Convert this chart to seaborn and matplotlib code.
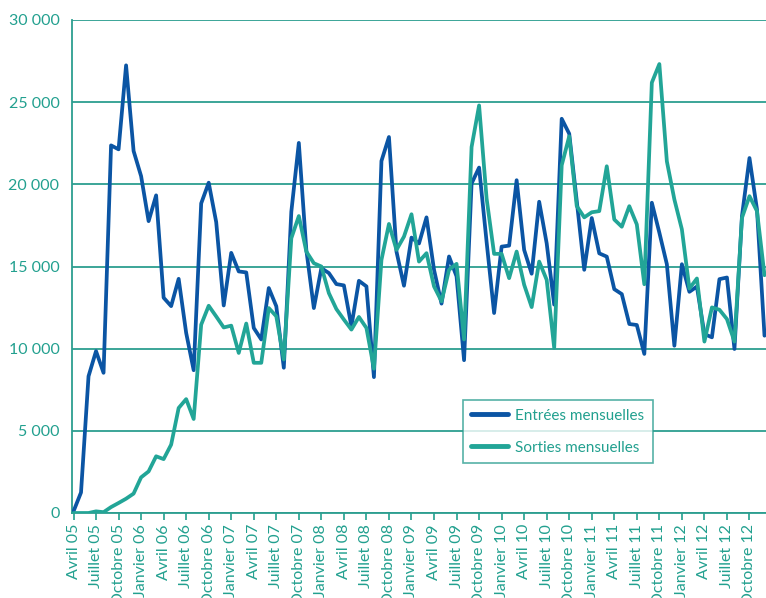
import numpy as np
import pandas as pd
import matplotlib
matplotlib.use("Agg")
import matplotlib.pyplot as plt
import seaborn as sns
from matplotlib.ticker import FuncFormatter, FixedLocator

# ---- data (monthly, Avril 2005 -> Décembre 2012) ----
entrees = [100, 1250, 8320, 9850, 8530, 22370, 22130, 27240, 22030, 20500,
           17760, 19330, 13100, 12590, 14250, 10960, 8690, 18840, 20100, 17700,
           12630, 15830, 14700, 14640, 11260, 10560, 13690, 12580, 8840, 18330,
           22520, 16000, 12470, 14900, 14600, 13930, 13850, 11360, 14130, 13790,
           8270, 21420, 22880, 15910, 13830, 16760, 16400, 17990, 14800, 12740,
           15610, 14400, 9300, 20050, 21020, 16500, 12170, 16210, 16270, 20250,
           16010, 14560, 18940, 16410, 12680, 23990, 23080, 19000, 14800, 17950,
           15800, 15600, 13620, 13320, 11500, 11440, 9680, 18880, 17060, 15140,
           10180, 15140, 13460, 13780, 10890, 10690, 14230, 14330, 9980, 18070,
           21600, 18470, 10790]
sorties = [0, 0, 0, 100, 50, 360, 610, 870, 1180, 2170,
           2530, 3450, 3280, 4160, 6390, 6930, 5720, 11460, 12610, 11960,
           11290, 11400, 9740, 11530, 9140, 9140, 12470, 11970, 9340, 16720,
           18070, 15910, 15200, 15000, 13380, 12410, 11770, 11160, 11930, 11260,
           8780, 15400, 17590, 16010, 16820, 18180, 15300, 15810, 13790, 12880,
           14800, 15160, 10560, 22270, 24800, 19140, 15770, 15770, 14290, 15910,
           13890, 12530, 15300, 14190, 10050, 21160, 22920, 18680, 17990, 18300,
           18370, 21100, 17860, 17420, 18670, 17560, 13920, 26190, 27320, 21400,
           19080, 17260, 13660, 14270, 10430, 12510, 12370, 11800, 10430, 17960,
           19280, 18370, 14470]
tick_labels = ["Avril 05", "Juillet 05", "Octobre 05",
               "Janvier 06", "Avril 06", "Juillet 06", "Octobre 06",
               "Janvier 07", "Avril 07", "Juillet 07", "Octobre 07",
               "Janvier 08", "Avril 08", "Juillet 08", "Octobre 08",
               "Janvier 09", "Avril 09", "Juillet 09", "Octobre 09",
               "Janvier 10", "Avril 10", "Juillet 10", "Octobre 10",
               "Janvier 11", "Avril 11", "Juillet 11", "Octobre 11",
               "Janvier 12", "Avril 12", "Juillet 12", "Octobre 12"]
series_names = ["Entrées mensuelles", "Sorties mensuelles"]

BLUE = "#0b55a4"
GREEN = "#22a597"
GRID = "#2c9e90"
TEXT = "#22a08f"

month_idx = np.arange(len(entrees))
df = pd.DataFrame({
    "mois": np.concatenate([month_idx, month_idx]),
    "valeur": entrees + sorties,
    "serie": [series_names[0]] * len(entrees) + [series_names[1]] * len(sorties),
})

sns.set_theme(style="white")
plt.rcParams["font.family"] = ["Lato", "DejaVu Sans"]

fig = plt.figure(figsize=(7.66, 5.98), dpi=100)
ax = fig.add_axes([72 / 766, 1 - 513 / 598, 1 - 72 / 766, (513 - 20) / 598])

sns.lineplot(data=df, x="mois", y="valeur", hue="serie", hue_order=series_names,
             palette={series_names[0]: BLUE, series_names[1]: GREEN},
             linewidth=2.7, ax=ax, legend=True, zorder=3)

ax.set_xlim(-0.2, 92.2)
ax.set_ylim(0, 30000)
ax.set_yticks(np.arange(0, 30001, 5000))
ax.yaxis.set_major_formatter(FuncFormatter(lambda v, p: f"{int(v):,}".replace(",", " ")))
ax.grid(axis="y", color=GRID, linewidth=1.3, zorder=0)
ax.set_axisbelow(True)

tick_pos = np.arange(0, len(tick_labels) * 3, 3)
ax.xaxis.set_major_locator(FixedLocator(tick_pos))
ax.set_xticklabels(tick_labels, rotation=90, va="top", ha="center")
ax.tick_params(axis="x", colors=TEXT, length=5, width=1.2, direction="out",
               labelsize=11.5, pad=3, bottom=True)
ax.tick_params(axis="y", colors=TEXT, length=0, labelsize=11.5, pad=9)
ax.set_xlabel("")
ax.set_ylabel("")

for s in ["top", "right"]:
    ax.spines[s].set_visible(False)
for s in ["left", "bottom"]:
    ax.spines[s].set_color(GRID)
    ax.spines[s].set_linewidth(1.3)

leg = ax.legend(loc="upper left", bbox_to_anchor=(0.563, 0.229), borderaxespad=0,
                frameon=True, fancybox=False, fontsize=11, handlelength=2.4,
                labelspacing=1.2, borderpad=0.55, handletextpad=0.5, title=None)
leg.get_frame().set_edgecolor(GRID)
leg.get_frame().set_linewidth(1.2)
for t in leg.get_texts():
    t.set_color(TEXT)
for l in leg.get_lines():
    l.set_linewidth(3.5)

fig.savefig("out.png", dpi=100)
